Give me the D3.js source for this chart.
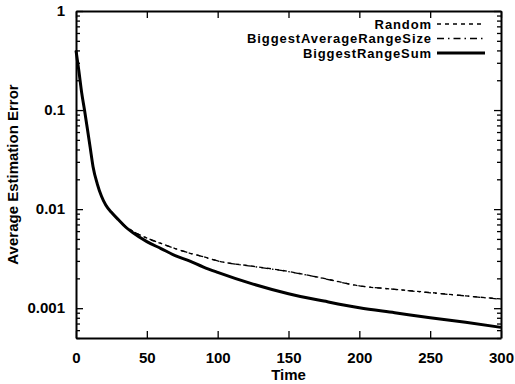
<!doctype html>
<html lang="en">
  <head>
    <meta charset="utf-8">
    <title>Average Estimation Error</title>
    <style>
      body { margin: 0; background: #fff; }
      svg text { font-family: "Liberation Sans", Arial, sans-serif; font-weight: bold; fill: #000; }
    </style>
  </head>
  <body>
    <script src="https://cdn.jsdelivr.net/npm/d3@7"></script>
    <script>
      // values
      var times = [0, 2, 4, 6, 8, 10, 12, 15, 18, 21, 25, 30, 35, 40, 50, 60, 70, 80, 90, 100,
                   125, 150, 175, 200, 225, 250, 275, 300];
      var randomErr = [0.40, 0.25, 0.15, 0.10, 0.065, 0.042, 0.027, 0.018, 0.0135, 0.011, 0.0093, 0.0078, 0.0067, 0.0060,
                       0.0051, 0.0045, 0.0040, 0.0036, 0.0033, 0.0030, 0.00265, 0.00235, 0.0020, 0.00168,
                       0.00155, 0.00144, 0.00133, 0.00124];
      var avgRangeErr = [0.40, 0.25, 0.15, 0.10, 0.065, 0.042, 0.027, 0.018, 0.0135, 0.011, 0.0093, 0.0078, 0.0067, 0.0060,
                         0.0051, 0.0045, 0.0040, 0.0036, 0.0033, 0.0030, 0.00264, 0.00234, 0.00199, 0.00168,
                         0.00155, 0.00143, 0.00133, 0.00123];
      var rangeSumErr = [0.40, 0.25, 0.15, 0.10, 0.065, 0.042, 0.027, 0.018, 0.0135, 0.011, 0.0093, 0.0078, 0.0066, 0.0058,
                         0.0047, 0.0040, 0.0034, 0.0030, 0.0026, 0.0023, 0.00175, 0.0014, 0.00118, 0.00101,
                         0.0009, 0.0008, 0.00072, 0.00064];
      var seriesNames = ["Random", "BiggestAverageRangeSize", "BiggestRangeSum"];
      var xTicks = [0, 50, 100, 150, 200, 250, 300];
      var yTicks = [1, 0.1, 0.01, 0.001];
      var yTickLabels = ["1", "0.1", "0.01", "0.001"];

      var margin = {top: 11, right: 14, bottom: 46, left: 76},
          width = 515 - margin.left - margin.right,
          height = 384 - margin.top - margin.bottom;

      var svg = d3.select("body")
        .append("svg")
        .attr("width", 515)
        .attr("height", 384);

      var chart = svg.append("g")
        .attr("transform", "translate(" + margin.left + "," + margin.top + ")");

      var x = d3.scaleLinear().domain([0, 300]).range([0, width]);
      var y = d3.scaleLog().domain([0.0005, 1]).range([height, 0]);

      // minor log ticks
      var minor = [];
      [0.0001, 0.001, 0.01, 0.1].forEach(function(d){
        for (var k = 2; k <= 9; k++) {
          var v = d * k;
          if (v >= 0.0005 && v < 1) minor.push(v);
        }
      });

      var left = chart.append("g")
        .call(d3.axisLeft(y).tickValues(yTicks).tickFormat(function(d, i){ return yTickLabels[i]; })
          .tickSizeInner(-7).tickSizeOuter(0).tickPadding(11));
      left.append("g").call(d3.axisLeft(y).tickValues(minor).tickFormat("").tickSizeInner(-4).tickSizeOuter(0))
        .select(".domain").remove();

      var right = chart.append("g").attr("transform", "translate(" + width + ",0)")
        .call(d3.axisRight(y).tickValues(yTicks).tickFormat("").tickSizeInner(-7).tickSizeOuter(0));
      right.append("g").call(d3.axisRight(y).tickValues(minor).tickFormat("").tickSizeInner(-4).tickSizeOuter(0))
        .select(".domain").remove();

      chart.append("g").attr("transform", "translate(0," + height + ")")
        .call(d3.axisBottom(x).tickValues(xTicks).tickSizeInner(-7).tickSizeOuter(0).tickPadding(14));

      chart.append("g")
        .call(d3.axisTop(x).tickValues(xTicks).tickFormat("").tickSizeInner(-7).tickSizeOuter(0));

      chart.selectAll(".domain").attr("stroke-width", 2);
      chart.selectAll(".tick line").attr("stroke-width", 1.3);
      chart.selectAll(".tick text").style("font-size", "15px");

      var line = d3.line()
        .curve(d3.curveMonotoneX)
        .x(function(d){ return x(d[0]); })
        .y(function(d){ return y(d[1]); });

      var series = [
        {name: seriesNames[0], values: randomErr, dash: "4,4", width: 1.3},
        {name: seriesNames[1], values: avgRangeErr, dash: "7,4,1.5,4", width: 1.3},
        {name: seriesNames[2], values: rangeSumErr, dash: null, width: 3}
      ];

      chart.selectAll(".series")
        .data(series)
        .enter()
        .append("path")
        .attr("class", "series")
        .attr("fill", "none")
        .attr("stroke", "#000")
        .attr("stroke-width", function(d){ return d.width; })
        .attr("stroke-dasharray", function(d){ return d.dash; })
        .attr("d", function(d){ return line(times.map(function(t, i){ return [t, d.values[i]]; })); });

      // legend
      var legend = svg.append("g");
      series.forEach(function(s, i){
        var ly = 24 + i * 14.5;
        legend.append("text")
          .attr("x", 432).attr("y", ly).attr("dy", "0.35em")
          .attr("text-anchor", "end")
          .style("font-size", "13px")
          .style("letter-spacing", "0.9px")
          .text(s.name);
        legend.append("line")
          .attr("x1", 437).attr("x2", 485).attr("y1", ly).attr("y2", ly)
          .attr("stroke", "#000")
          .attr("stroke-width", s.width)
          .attr("stroke-dasharray", s.dash);
      });

      svg.append("text")
        .attr("x", margin.left + width / 2).attr("y", 380)
        .attr("text-anchor", "middle")
        .style("font-size", "15px")
        .text("Time");

      svg.append("text")
        .attr("transform", "translate(18," + (margin.top + height / 2) + ") rotate(-90)")
        .attr("text-anchor", "middle")
        .style("font-size", "15px")
        .text("Average Estimation Error");
    </script>
  </body>
</html>
